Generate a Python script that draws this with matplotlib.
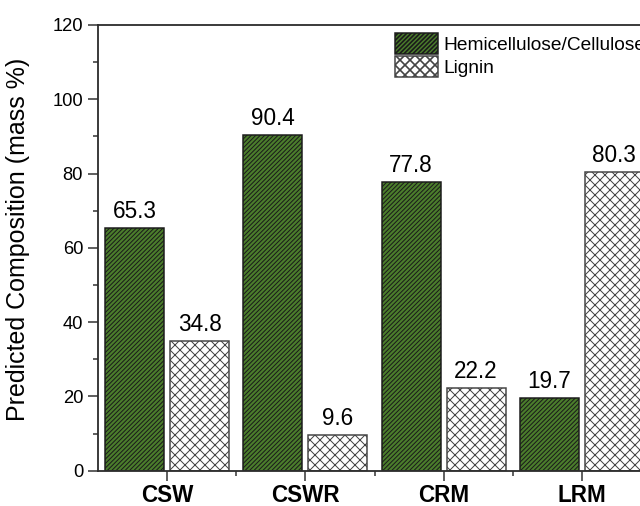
import numpy as np
import matplotlib
matplotlib.use("Agg")
import matplotlib.pyplot as plt
from matplotlib.ticker import MultipleLocator, FixedLocator

plt.rcParams['font.family'] = ['Liberation Sans', 'DejaVu Sans']

categories = ['CSW', 'CSWR', 'CRM', 'LRM']
hemicellulose = [65.3, 90.4, 77.8, 19.7]
lignin = [34.8, 9.6, 22.2, 80.3]
series_names = ['Hemicellulose/Cellulose', 'Lignin']
y_ticks = [0, 20, 40, 60, 80, 100, 120]

DPI = 120
fig = plt.figure(figsize=(640 / DPI, 506 / DPI), dpi=DPI)
W, H = 640, 506
# axes rectangle in pixels; the right part runs past the canvas edge
left_px, right_px, top_px, bottom_px = 98, 651, 25, 470.7
ax = fig.add_axes([left_px / W, (H - bottom_px) / H,
                   (right_px - left_px) / W, (bottom_px - top_px) / H])

x = np.arange(1, len(categories) + 1)
width = 0.427
offset = 0.235
green = '#4b7d2c'
axis_color = '#2e2e2e'

with plt.rc_context({'hatch.linewidth': 0.6}):
    b1 = ax.bar(x - offset, hemicellulose, width, color=green,
                edgecolor='#1a1a1a', hatch='/////////', linewidth=0.9,
                label=series_names[0])
with plt.rc_context({'hatch.linewidth': 0.6}):
    b2 = ax.bar(x + offset, lignin, width, color='white',
                edgecolor='#444444', hatch='xxxx', linewidth=0.9,
                label=series_names[1])

for xs, vals in ((x - offset, hemicellulose), (x + offset, lignin)):
    for xi, v in zip(xs, vals):
        ax.annotate(f'{v:.1f}', (xi, v), xytext=(0, 6), textcoords='offset points',
                    ha='center', va='baseline', fontsize=13.5, color='black',
                    annotation_clip=False)

ax.set_xlim(0.5, 4.5)
ax.set_ylim(0, 120)
ax.set_yticks(y_ticks)
ax.yaxis.set_minor_locator(MultipleLocator(10))
ax.set_xticks(x)
ax.set_xticklabels(categories, fontsize=13.5, fontweight='bold')
ax.xaxis.set_minor_locator(FixedLocator([1.5, 2.5, 3.5, 4.5]))

for s in ('left', 'bottom', 'top', 'right'):
    ax.spines[s].set_color(axis_color)
    ax.spines[s].set_linewidth(1.1)

ax.tick_params(axis='y', which='major', length=6, width=0.9, color=axis_color,
               labelsize=11, pad=3)
ax.tick_params(axis='y', which='minor', length=3, width=0.9, color=axis_color)
ax.tick_params(axis='x', which='major', length=6, width=0.9, color=axis_color,
               pad=2)
ax.tick_params(axis='x', which='minor', length=3, width=0.9, color=axis_color)
ax.tick_params(top=False, right=False, which='both')

ax.set_ylabel('Predicted Composition (mass %)', fontsize=15)
ax.yaxis.set_label_coords((30 - left_px) / (right_px - left_px), 0.52)

fs = 11.5
fs_px = fs * DPI / 72
ax.legend(handles=[b1, b2], loc='upper left',
          bbox_to_anchor=(395 / W, (H - 33) / H), bbox_transform=fig.transFigure,
          frameon=False, borderpad=0, fontsize=fs,
          handlelength=43 / fs_px, handleheight=25 / fs_px,
          handletextpad=5 / fs_px, labelspacing=0.1, borderaxespad=0)

fig.savefig('out.png', dpi=DPI)
